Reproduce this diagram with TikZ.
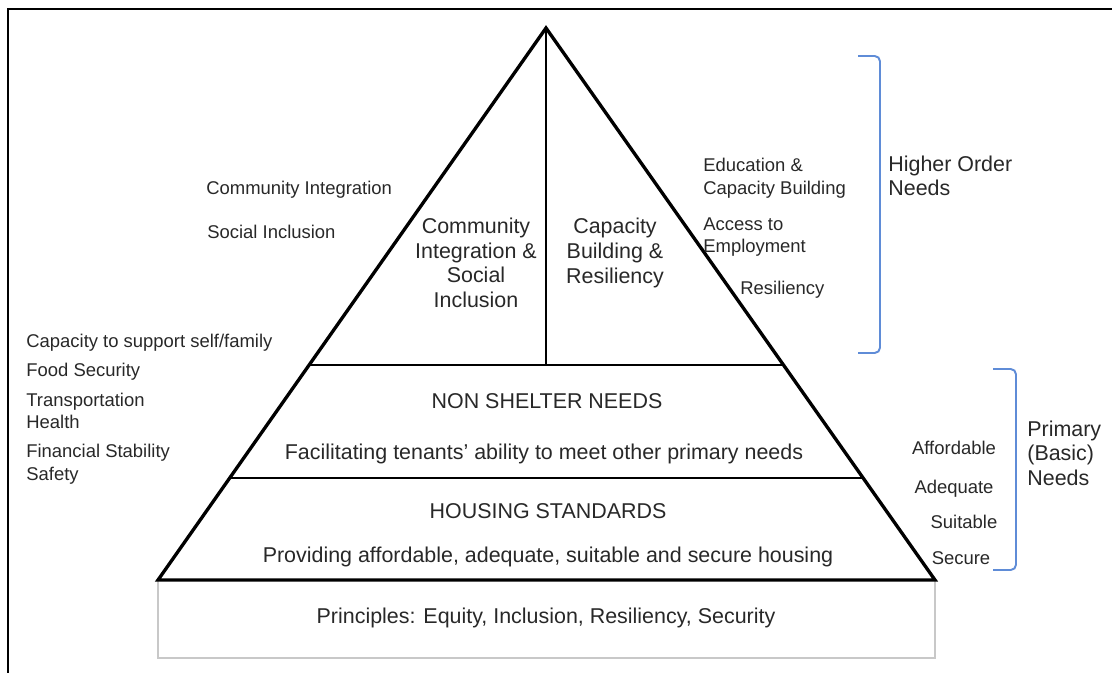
\documentclass[tikz,border=0pt]{standalone}
\usepackage{fontspec}
\setmainfont{Liberation Sans}
\definecolor{needblue}{RGB}{95,140,215}
\definecolor{boxgray}{RGB}{200,200,200}
\definecolor{inkgray}{RGB}{40,40,40}

\begin{document}
\begin{tikzpicture}[x=0.02cm,y=-0.02cm,
  lbl/.style={font=\fontsize{10.5}{12.8}\selectfont,text=inkgray,inner sep=0pt,anchor=west,align=left},
  tier/.style={font=\fontsize{12.2}{14}\selectfont,text=inkgray,inner sep=0pt,align=center},
  needs/.style={tier,anchor=west,align=left}]
\useasboundingbox (0,0) rectangle (1112,673);
\draw [line width=1.2pt] (1112,9) -- (8,9) -- (8,673);

\draw [boxgray, line width=0.9pt] (158,580) rectangle (935,658);
\draw (546,618) node[tier] (principles) {Principles: Equity, Inclusion, Resiliency, Security};

\draw [line width=1.9pt] (546,28) coordinate (apex) -- (935,580) coordinate (br) -- (158,580) coordinate (bl) -- cycle;
\draw [line width=0.9pt] (apex) -- (546,365);
\draw [line width=1.1pt] (309,365) -- (783,365);
\draw [line width=1.1pt] (230,478) -- (863,478);

\draw (476,263) node[tier] (community) {Community\\Integration \&\\Social\\Inclusion};
\draw (615,253) node[tier] (capacity) {Capacity\\Building \&\\Resiliency};
\draw (547,401) node[tier] (nonshelter) {NON SHELTER NEEDS};
\draw (544,454) node[tier] (facilitating) {Facilitating tenants’ ability to meet other primary needs};
\draw (548,511) node[tier] (housing) {HOUSING STANDARDS};
\draw (548,557) node[tier] (providing) {Providing affordable, adequate, suitable and secure housing};

\draw (206,190) node[lbl] (integration) {Community Integration};
\draw (207,232) node[lbl] (inclusion) {Social Inclusion};
\draw (26,343) node[lbl] (selffamily) {Capacity to support self/family};
\draw (26,372) node[lbl] (food) {Food Security};
\draw (26,411) node[lbl] (transport) {Transportation\\Health};
\draw (26,464) node[lbl] (financial) {Financial Stability\\Safety};

\draw (703,178) node[lbl] (education) {Education \&\\Capacity Building};
\draw (703,237) node[lbl] (employment) {Access to\\Employment};
\draw (740,290) node[lbl] (resiliency) {Resiliency};

\draw (954,448) node[lbl,anchor=center] (affordable) {Affordable};
\draw (954,489) node[lbl,anchor=center] (adequate) {Adequate};
\draw (964,522) node[lbl,anchor=center] (suitable) {Suitable};
\draw (961,558) node[lbl,anchor=center] (secure) {Secure};

\draw [needblue, line width=1.1pt, rounded corners=3pt] (858,56) -- (880,56) -- (880,353) -- (858,353);
\draw [needblue, line width=1.1pt, rounded corners=3pt] (993,369) -- (1016,369) -- (1016,570) -- (993,570);
\draw (888,176) node[needs] (higher) {Higher Order\\Needs};
\draw (1027,453) node[needs] (primary) {Primary\\(Basic)\\Needs};

\end{tikzpicture}
\end{document}
